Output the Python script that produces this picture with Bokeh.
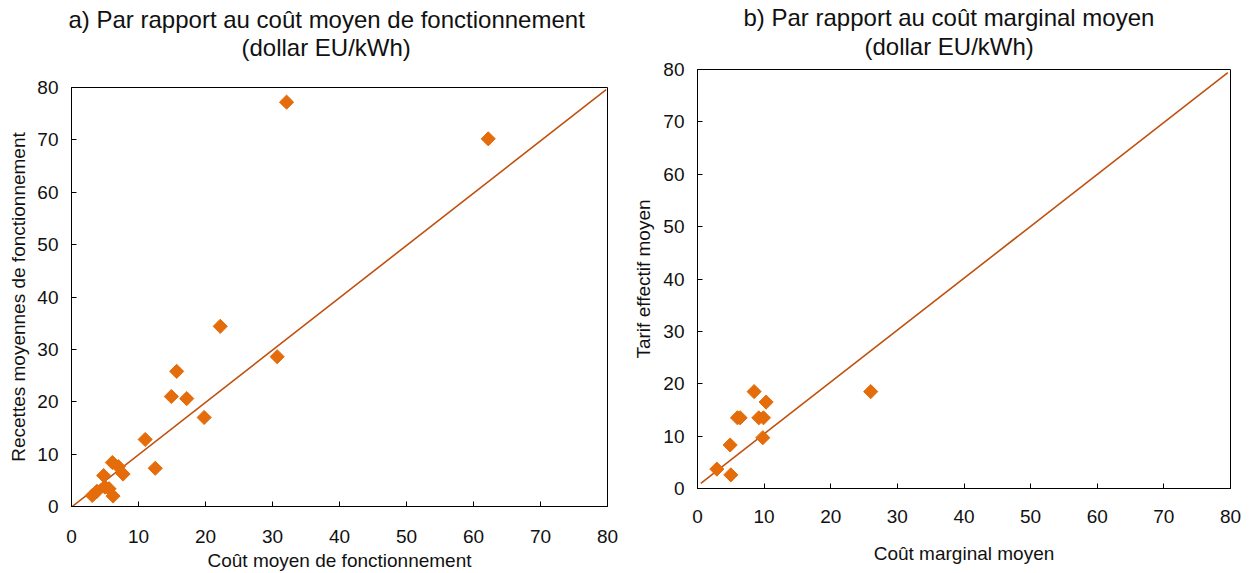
from bokeh.plotting import figure
from bokeh.models import FixedTicker, Range1d, Title
from bokeh.embed import file_html
from bokeh.resources import INLINE
import numpy as np

# ---- data ----
# a) Par rapport au coût moyen de fonctionnement
cout_moyen = [32.1, 62.2, 22.2, 30.7, 15.7, 14.9, 17.2, 19.8, 11.0, 12.5,
              6.1, 7.0, 7.7, 4.8, 5.0, 5.6, 6.2, 3.1, 3.8]
recettes = [77.2, 70.2, 34.4, 28.6, 25.8, 21.0, 20.6, 17.0, 12.8, 7.3,
            8.4, 7.6, 6.2, 5.9, 3.7, 3.4, 2.0, 2.1, 2.9]
diag_a_x = [-0.5, 79.8]
diag_a_y = [-0.6, 79.6]

# b) Par rapport au coût marginal moyen
cout_marginal = [8.5, 26.0, 10.3, 6.0, 6.4, 9.2, 9.9, 9.8, 4.9, 2.9, 5.0]
tarif = [18.5, 18.5, 16.5, 13.5, 13.5, 13.5, 13.5, 9.7, 8.3, 3.7, 2.6]
diag_b_x = [0.5, 79.6]
diag_b_y = [1.0, 79.4]

ticks = [0, 10, 20, 30, 40, 50, 60, 70, 80]

titre_a = ["a) Par rapport au coût moyen de fonctionnement", "(dollar EU/kWh)"]
titre_b = ["b) Par rapport au coût marginal moyen", "(dollar EU/kWh)"]

FONT = "Liberation Sans"
MARK = "#E46C0A"
LINE = "#C0500F"
TXT = "#111111"


def make(left, width, height, bl, br, bt, bb, xlabel, ylabel, xs, ys, dx, dy,
         titles, offsets, standoffs, spacer, x_lab_standoff, x_axlab_standoff,
         y_axlab_standoff):
    p = figure(width=width, height=height, output_backend="svg",
               toolbar_location=None,
               x_range=Range1d(0, 80), y_range=Range1d(0, 80),
               min_border_left=bl, min_border_right=br, min_border_top=bt,
               min_border_bottom=bb, background_fill_color="white",
               border_fill_color="white")
    p.styles = {"position": "absolute", "left": f"{left}px", "top": "0px"}
    p.grid.visible = False
    p.outline_line_color = "black"
    p.outline_line_width = 1
    p.outline_line_alpha = 1
    for ax in (p.xaxis[0], p.yaxis[0]):
        ax.ticker = FixedTicker(ticks=ticks)
        ax.major_tick_in = 5
        ax.major_tick_out = 0
        ax.minor_tick_in = 0
        ax.minor_tick_out = 0
        ax.axis_line_color = "black"
        ax.major_tick_line_color = "black"
        ax.major_label_text_font = FONT
        ax.major_label_text_font_size = "19px"
        ax.major_label_text_color = TXT
        ax.axis_label_text_font = FONT
        ax.axis_label_text_font_size = "19px"
        ax.axis_label_text_font_style = "normal"
        ax.axis_label_text_color = TXT
    p.xaxis.axis_label = xlabel
    p.yaxis.axis_label = ylabel
    p.xaxis.major_label_standoff = x_lab_standoff
    p.xaxis.axis_label_standoff = x_axlab_standoff
    p.yaxis.major_label_standoff = 13
    p.yaxis.axis_label_standoff = y_axlab_standoff

    p.line(dx, dy, line_color=LINE, line_width=1.6)
    p.scatter(xs, ys, marker="square", angle=np.pi / 4, size=10,
              fill_color=MARK, line_color=MARK)

    # panels above are stacked outward from the frame
    if spacer is not None:
        p.add_layout(Title(text=" ", standoff=spacer, text_font=FONT,
                           text_font_size="24px"), "above")
    p.add_layout(Title(text=titles[1], align="left", offset=offsets[1],
                       vertical_align="top", standoff=standoffs[1],
                       text_font=FONT, text_font_size="24px",
                       text_font_style="normal", text_color=TXT), "above")
    p.add_layout(Title(text=titles[0], align="left", offset=offsets[0],
                       vertical_align="bottom", standoff=standoffs[0],
                       text_font=FONT, text_font_size="24px",
                       text_font_style="normal", text_color=TXT), "above")
    return p


pa = make(0, 630, 573, 71, 23, 87, 67, "Coût moyen de fonctionnement",
          "Recettes moyennes de fonctionnement", cout_moyen, recettes,
          diag_a_x, diag_a_y, titre_a, [-3, 170], [4, -1], -4, 23, 4, 5)
pb = make(630, 620, 573, 67, 20, 69, 85, "Coût marginal moyen",
          "Tarif effectif moyen", cout_marginal, tarif,
          diag_b_x, diag_b_y, titre_b, [46, 167], [-13, 16], None, 21, 17, 6)

open("out.html", "w").write(file_html([pa, pb], INLINE))
